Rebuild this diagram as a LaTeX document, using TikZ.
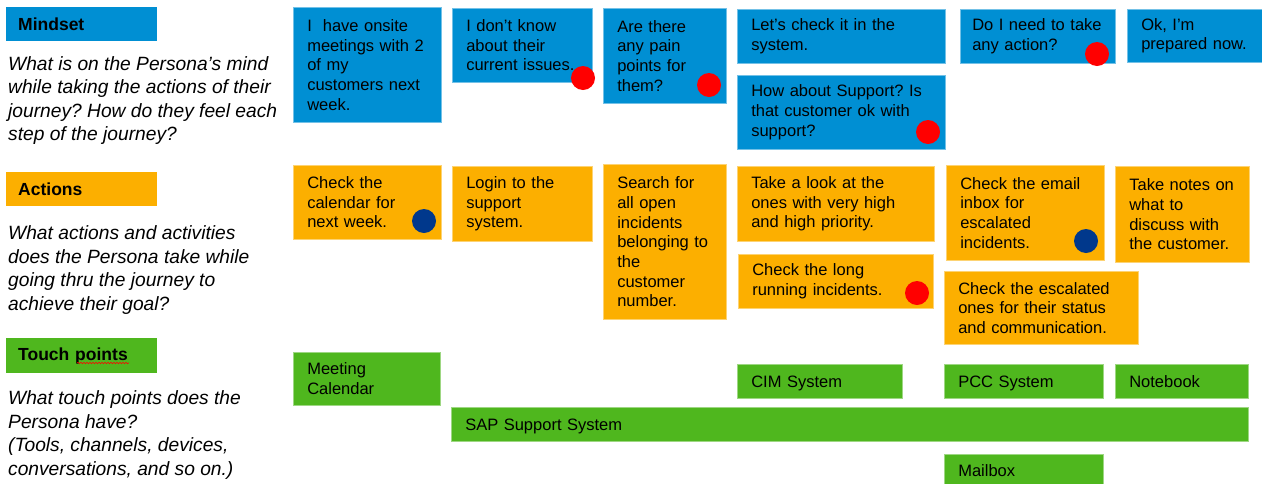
\documentclass[tikz,border=0pt]{standalone}
\usepackage{fontspec}
\setmainfont{Liberation Sans}
\usepackage{xcolor}
\usetikzlibrary{decorations.pathmorphing}

\definecolor{mindblue}{RGB}{0,143,211}
\definecolor{actgold}{RGB}{252,175,0}
\definecolor{touchgreen}{RGB}{79,183,30}
\definecolor{dotnavy}{RGB}{0,56,140}
\definecolor{dotred}{RGB}{255,0,0}

\frenchspacing

\begin{document}
\begin{tikzpicture}[x=1pt, y=-1pt,
    card/.style={anchor=north west, align=left, inner xsep=14pt, inner ysep=3pt,
        line width=0.6pt, font=\fontsize{16.5}{19.7}\selectfont},
    mind/.style={card, fill=mindblue, draw=mindblue!55!white},
    act/.style={card, fill=actgold, draw=actgold!55!white},
    touch/.style={card, fill=touchgreen, draw=touchgreen!55!white},
    single/.style={text height=12pt, text depth=0pt},
    lane/.style={anchor=north west, align=left, inner xsep=12pt, text width=127pt,
        minimum height=34pt, font=\fontsize{17.5}{21}\selectfont\bfseries},
    ask/.style={anchor=north west, align=left, inner sep=0pt,
        font=\fontsize{19.2}{23.5}\selectfont\itshape},
    spot/.style={circle, inner sep=0pt, minimum size=24pt},
    reddot/.style={spot, fill=dotred},
    bluedot/.style={spot, fill=dotnavy}]

    \fill[white] (0,0) rectangle (1262,483);
    \useasboundingbox (0,0) rectangle (1262,483);

    % lane titles and their questions
    \node[lane, fill=mindblue] (mindhead) at (6,7) {Mindset};
    \node[ask] (mindask) at (8,56) {What is on the Persona’s mind\\while taking the actions of their\\journey? How do they feel each\\step of the journey?};

    \node[lane, fill=actgold] (acthead) at (6,172) {Actions};
    \node[ask] (actask) at (8,225.5) {What actions and activities\\does the Persona take while\\going thru the journey to\\achieve their goal?};

    \node[lane, fill=touchgreen, minimum height=35pt] (touchhead) at (6,338) {Touch points};
    \node[ask] (touchask) at (8,390.5) {What touch points does the\\Persona have?\\(Tools, channels, devices,\\conversations, and so on.)};
    \draw[dotred, line width=0.6pt, decorate, decoration={snake, amplitude=0.7pt, segment length=3pt}] (77,363) -- (129,363);

    % mindset
    \node[mind, text width=120pt, minimum height=115pt] (m1) at (293,7) {I~~have onsite\\meetings with 2\\of my\\customers next\\week.};
    \node[mind, text width=112pt, minimum height=74pt] (m2) at (452,8) {I don’t know\\about their\\current issues.};
    \node[mind, text width=95pt, minimum height=95pt] (m3) at (603,8) {Are there\\any pain\\points for\\them?};
    \node[mind, text width=180pt, minimum height=54pt] (m4) at (737,9) {Let’s check it in the\\system.};
    \node[mind, text width=180pt, minimum height=74pt] (m5) at (737,75) {How about Support? Is\\that customer ok with\\support?};
    \node[mind, inner xsep=12pt, text width=131pt, minimum height=54pt] (m6) at (960,9) {Do I need to take\\any action?};
    \node[mind, text width=112pt, minimum height=53pt] (m7) at (1127,9) {Ok, I’m\\prepared now.};

    % actions
    \node[act, text width=120pt, minimum height=74pt] (a1) at (293,165) {Check the\\calendar for\\next week.};
    \node[act, text width=112pt, minimum height=75pt] (a2) at (452,166) {Login to the\\support\\system.};
    \node[act, text width=95pt, minimum height=155pt] (a3) at (603,164) {Search for\\all open\\incidents\\belonging to\\the\\customer\\number.};
    \node[act, text width=169pt, minimum height=75pt] (a4) at (737,166) {Take a look at the\\ones with very high\\and high priority.};
    \node[act, text width=167pt, minimum height=54pt] (a5) at (738,254) {Check the long\\running incidents.};
    \node[act, text width=130pt, minimum height=95pt] (a6) at (946,165) {Check the email\\inbox for\\escalated\\incidents.};
    \node[act, text width=106pt, minimum height=96pt] (a7) at (1115,166) {Take notes on\\what to\\discuss with\\the customer.};
    \node[act, text width=166pt, minimum height=73pt] (a8) at (944,271) {Check the escalated\\ones for their status\\and communication.};

    % touch points
    \node[touch, text width=119pt, minimum height=53pt] (t1) at (293,352) {Meeting\\Calendar};
    \node[touch, single, text width=137pt, minimum height=34pt] (t2) at (737,364) {CIM System};
    \node[touch, single, text width=131pt, minimum height=34pt] (t3) at (944,364) {PCC System};
    \node[touch, single, text width=105pt, minimum height=34pt] (t4) at (1115,364) {Notebook};
    \node[touch, single, text width=769pt, minimum height=34pt] (t5) at (451,407) {SAP Support System};
    \node[touch, single, text width=131pt, minimum height=33pt] (t6) at (944,454) {Mailbox};

    % flags
    \node[reddot] (m2dot) at (583,78) {};
    \node[reddot] (m3dot) at (709,85) {};
    \node[reddot] (m5dot) at (928,132) {};
    \node[reddot] (m6dot) at (1097,54) {};
    \node[bluedot] (a1dot) at (424,221) {};
    \node[reddot] (a5dot) at (917,293) {};
    \node[bluedot] (a6dot) at (1086,241) {};
\end{tikzpicture}
\end{document}
